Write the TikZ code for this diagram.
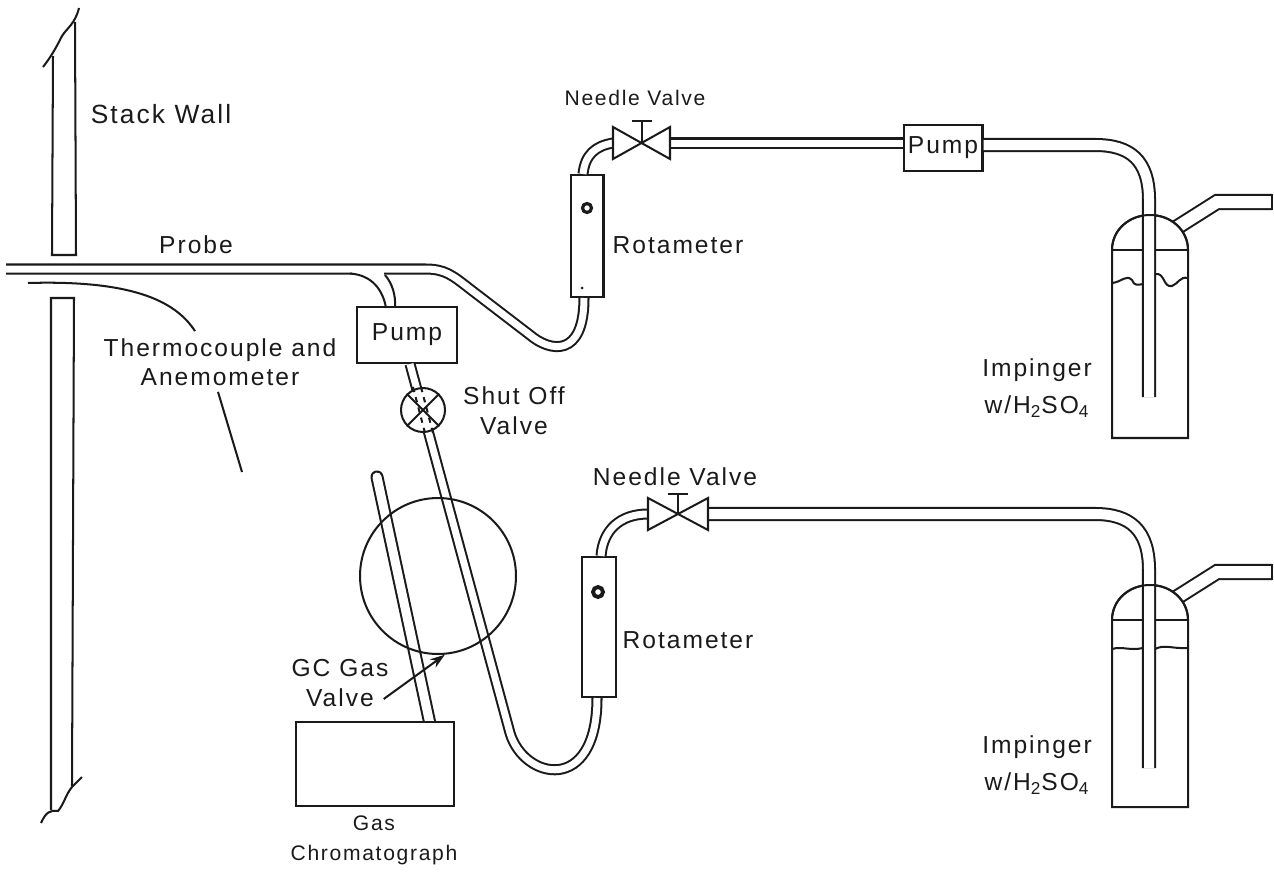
\documentclass[tikz,border=0pt]{standalone}
\usepackage{fontspec}
\setmainfont[LetterSpace=8]{Liberation Sans}
\usetikzlibrary{arrows.meta,calc}
\definecolor{ink}{HTML}{1a1a1a}
\begin{document}
\begin{tikzpicture}[x=0.02cm,y=-0.02cm,
  line/.style={draw=ink,line width=1.15pt},
  tube/.style={draw=ink,line width=1.15pt,double=white,double distance=0.14cm},
  widetube/.style={tube,double distance=0.2cm},
  box/.style={draw=ink,line width=1.15pt,fill=white,inner sep=0pt,align=center},
  lab/.style={inner sep=0pt,align=center,text=ink,font=\fontsize{14}{17}\selectfont},
  smalllab/.style={lab,font=\fontsize{12}{17}\selectfont}]
 \useasboundingbox (0,0) rectangle (1274,876);
 % stack wall
 \draw[line] (53,56) -- (52,255) -- (76,255) -- (75,22);
 \draw[line] (43,67) .. controls (50,58) and (55,50) .. (62,36) .. controls (67,28) and (75,24) .. (79,8);
 \draw[line] (51,810) -- (51,298) -- (74,298) -- (72,786);
 \draw[line] (41,823) .. controls (46,812) and (50,810) .. (58,811) .. controls (64,804) and (66,794) .. (72,787) -- (82,777);
 % boxes
 \node[box,minimum width=2cm,minimum height=1.12cm] (pumpA) at (407,335) {};
 \node[box,minimum width=0.66cm,minimum height=2.44cm] (rotaA) at (587,236) {};
 \node[box,minimum width=1.58cm,minimum height=0.92cm] (pumpB) at (943,148) {};
 \node[box,minimum width=0.68cm,minimum height=2.8cm] (rotaB) at (599,627) {};
 \coordinate (valveA) at (642,143);
 \coordinate (valveB) at (678,514);
 \coordinate (probein) at (6,269);
 \coordinate (impA) at (1149,397);
 \coordinate (impB) at (1149,768);
 \coordinate (gcport) at (430,724);
 % impingers
 \foreach \top/\sh/\bot/\outy in {215/250/438/202,585/620/807/572} {
   \draw[tube,double distance=0.24cm] (1168,\top+18) -- (1217,\outy) -- (1272,\outy);
   \draw[line] (1272,\outy-8) -- (1272,\outy+8);
   \draw[box] (1112,\sh) .. controls (1112,\sh-20) and (1129,\top) .. (1150,\top)
     .. controls (1171,\top) and (1188,\sh-20) .. (1188,\sh) -- (1188,\bot) -- (1112,\bot) -- cycle;
   \draw[line] (1112,\sh) -- (1188,\sh);
 }
 \draw[line] (1112,283) .. controls (1122,282) and (1126,274) .. (1132,280) .. controls (1134,286) and (1138,285) .. (1143,284);
 \draw[line] (1155,274) .. controls (1165,272) and (1163,288) .. (1172,286) .. controls (1178,284) and (1180,276) .. (1188,278);
 \draw[line] (1112,649) .. controls (1122,646) and (1130,651) .. (1143,648);
 \draw[line] (1155,649) .. controls (1165,644) and (1172,649) .. (1188,648);
 % tubes
 \draw[tube] (probein) -- (425,269) .. controls (445,269) and (452,275) .. (470,289) -- (530,335)
   .. controls (550,352) and (584,358) .. ($(rotaA.south)+(-3,0)$);
 \draw[white,line width=3pt] (352,273.5) -- (384,273.5);
 \draw[line] (350,273.5) .. controls (372,275) and (383,290) .. (386,308);
 \draw[line] (385,275) .. controls (392,283) and (396,295) .. (395,308);
 \draw[tube] ($(rotaA.north)+(-4,0)$) .. controls (585,155) and (595,146) .. ($(valveA)+(-29,0)$);
 \draw[tube] ($(valveA)+(28,0)$) -- (pumpB.west |- valveA);
 \draw[widetube] (pumpB.east |- valveA) ++(0,2) -- (1095,145) .. controls (1130,145) and (1149,160) .. (1149,200) -- (impA);
 \draw[tube] (pumpA.south) ++(3,0) -- (510,733) .. controls (524,780) and (597,795) .. ($(rotaB.south)+(-2,0)$);
 \draw[tube] ($(rotaB.north)+(2,0)$) .. controls (603,530) and (620,514) .. ($(valveB)+(-30,0)$);
 \draw[widetube] ($(valveB)+(30,0)$) -- (1095,514) .. controls (1130,514) and (1149,530) .. (1149,570) -- (impB);
 \draw[tube,line cap=round,double distance=0.18cm] (377,477) -- (gcport);
 \node[box,minimum width=3.16cm,minimum height=1.68cm] (gc) at (375,764) {};
 % dome lines cross the tubes
 \foreach \top/\sh in {215/250,585/620} {
   \draw[line] (1112,\sh) .. controls (1112,\sh-20) and (1129,\top) .. (1150,\top)
     .. controls (1171,\top) and (1188,\sh-20) .. (1188,\sh);
 }
 % valves
 \draw[line,fill=white] ($(valveA)+(-29,-16)$) -- ($(valveA)+(28,16)$) -- ($(valveA)+(28,-16)$) -- ($(valveA)+(-29,16)$) -- cycle;
 \draw[line] (valveA) -- ++(0,-22) ++(-10,0) -- ++(20,0);
 \draw[line,fill=white] ($(valveB)+(-30,-16)$) -- ($(valveB)+(30,16)$) -- ($(valveB)+(30,-16)$) -- ($(valveB)+(-30,16)$) -- cycle;
 \draw[line] (valveB) -- ++(0,-20) ++(-10,0) -- ++(20,0);
 \node[box,circle,minimum size=0.88cm] (shutoff) at (423,410) {};
 \draw[line] (shutoff.45) -- (shutoff.225) (shutoff.135) -- (shutoff.-45);
 \draw[line,dashed] ($(shutoff.north)+(-10,0)$) -- ($(shutoff.south)+(2,0)$);
 \draw[line,dashed] ($(shutoff.north)+(-2,0)$) -- ($(shutoff.south)+(10,0)$);
 \node[draw=ink,line width=1.15pt,circle,inner sep=0pt,minimum size=3.12cm] (gasvalve) at (438,576) {};
 \node[draw=ink,line width=1.8pt,circle,inner sep=0pt,minimum size=0.18cm] (floatA) at (587,208) {};
 \node[draw=ink,line width=2.2pt,circle,inner sep=0pt,minimum size=0.2cm] (floatB) at (598,592) {};
 \fill[ink] (582,288) circle (1.5);
 % labels
 \node[lab,font=\fontsize{15}{17}\selectfont] (stacklab) at (161,114) {Stack Wall};
 \node[lab] (probelab) at (196,245) {Probe};
 \node[lab] (thermolab) at (220,362) {Thermocouple and\\[-0.5pt]Anemometer};
 \node[lab] at (pumpA) {Pump};
 \node[lab] at (pumpB) {Pump};
 \node[smalllab] (needleA) at (635,98) {Needle Valve};
 \node[lab] (needleB) at (675,477) {Needle Valve};
 \node[lab] (rotalabA) at (678,245) {Rotameter};
 \node[lab] (rotalabB) at (688,640) {Rotameter};
 \node[lab] (shutlab) at (514,411) {Shut Off\\Valve};
 \node[lab] (implabA) at (1037,388) {Impinger\\[4pt]w/H\textsubscript{2}SO\textsubscript{4}};
 \node[lab] (implabB) at (1037,765) {Impinger\\[4pt]w/H\textsubscript{2}SO\textsubscript{4}};
 \node[lab] (gclab) at (340,683) {GC Gas\\Valve};
 \node[smalllab] (gcname) at (374,840) {Gas\\Chromatograph};
 \draw[line,-{Stealth[length=3mm,width=2mm]}] ($(gclab.east)+(-5,16)$) -- (gasvalve.-85);
 % thermocouple
 \coordinate (tcin) at (28,283);
 \coordinate (tcend) at (242,472);
 \draw[line] (tcin) .. controls (130,280) and (175,300) .. ($(thermolab.north)+(-25,-7)$);
 \draw[line] ($(thermolab.south)+(-2,6)$) -- (tcend);
\end{tikzpicture}
\end{document}
